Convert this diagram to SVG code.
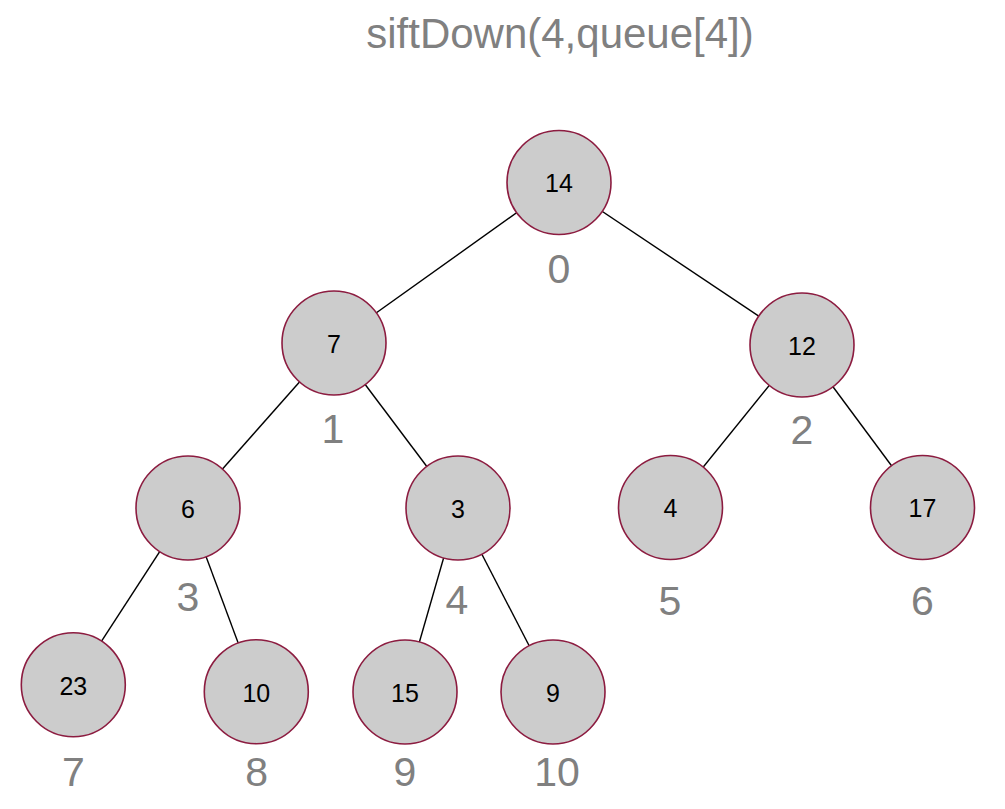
<svg xmlns="http://www.w3.org/2000/svg" width="1005" height="809" viewBox="0 0 1005 809">
<style>
.edge{stroke:#000;stroke-width:1.4;fill:none}
.node circle{fill:#cccccc;stroke:#8c1c40;stroke-width:1.6}
.node text{font-family:"Liberation Sans",Arial,sans-serif;font-size:25px;fill:#000;text-anchor:middle}
.idx{font-family:"Liberation Sans",Arial,sans-serif;font-size:41px;fill:#808080;text-anchor:middle}
.title{font-family:"Liberation Sans",Arial,sans-serif;font-size:42px;fill:#808080;text-anchor:middle}
</style>
<rect width="1005" height="809" fill="#fff"/>
<text class="title" x="560" y="48">siftDown(4,queue[4])</text>
<g id="connectors">
<line class="edge" x1="559" y1="182.5" x2="334" y2="343"/>
<line class="edge" x1="559" y1="182.5" x2="802" y2="345"/>
<line class="edge" x1="334" y1="343" x2="188" y2="508"/>
<line class="edge" x1="334" y1="343" x2="458" y2="508"/>
<line class="edge" x1="802" y1="345" x2="670.5" y2="507.5"/>
<line class="edge" x1="802" y1="345" x2="922.5" y2="507.5"/>
<line class="edge" x1="188" y1="508" x2="73.3" y2="684.7"/>
<line class="edge" x1="188" y1="508" x2="256.3" y2="691.7"/>
<line class="edge" x1="458" y1="508" x2="405" y2="692"/>
<line class="edge" x1="458" y1="508" x2="553" y2="692"/>
</g>
<g id="n0" class="node"><circle cx="559" cy="182.5" r="52"/><text x="559" y="192">14</text></g>
<g id="n1" class="node"><circle cx="334" cy="343" r="52"/><text x="334" y="352.5">7</text></g>
<g id="n2" class="node"><circle cx="802" cy="345" r="52"/><text x="802" y="354.5">12</text></g>
<g id="n3" class="node"><circle cx="188" cy="508" r="52"/><text x="188" y="517.5">6</text></g>
<g id="n4" class="node"><circle cx="458" cy="508" r="52"/><text x="458" y="517.5">3</text></g>
<g id="n5" class="node"><circle cx="670.5" cy="507.5" r="52"/><text x="670.5" y="517">4</text></g>
<g id="n6" class="node"><circle cx="922.5" cy="507.5" r="52"/><text x="922.5" y="517">17</text></g>
<g id="n7" class="node"><circle cx="73.3" cy="684.7" r="52"/><text x="73.3" y="694.5">23</text></g>
<g id="n8" class="node"><circle cx="256.3" cy="691.7" r="52"/><text x="256.3" y="701.5">10</text></g>
<g id="n9" class="node"><circle cx="405" cy="692" r="52"/><text x="405" y="701.5">15</text></g>
<g id="n10" class="node"><circle cx="553" cy="692" r="52"/><text x="553" y="701.5">9</text></g>
<g id="labels">
<text class="idx" x="559" y="283">0</text>
<text class="idx" x="333" y="443">1</text>
<text class="idx" x="802" y="444">2</text>
<text class="idx" x="188" y="611">3</text>
<text class="idx" x="457" y="614">4</text>
<text class="idx" x="670" y="615">5</text>
<text class="idx" x="922.5" y="615">6</text>
<text class="idx" x="73.3" y="786">7</text>
<text class="idx" x="256.7" y="786">8</text>
<text class="idx" x="405" y="786">9</text>
<text class="idx" x="557" y="786">10</text>
</g>
</svg>
